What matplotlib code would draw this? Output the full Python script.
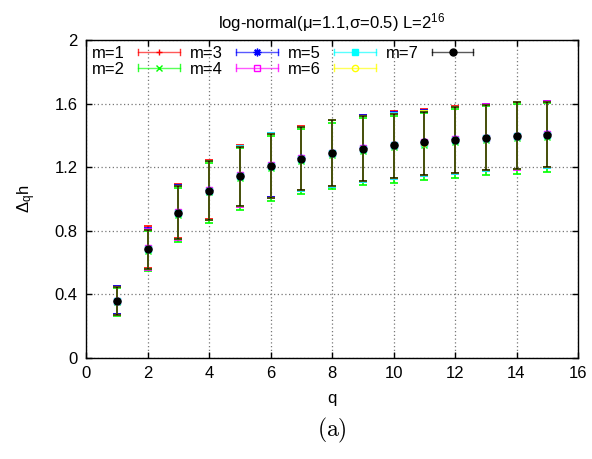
import numpy as np
import matplotlib
matplotlib.use("Agg")
import matplotlib.pyplot as plt
from matplotlib.lines import Line2D
from matplotlib.legend_handler import HandlerBase

plt.rcParams['font.family'] = ['Liberation Sans', 'DejaVu Sans']
plt.rcParams['mathtext.fontset'] = 'custom'
plt.rcParams['mathtext.rm'] = 'Liberation Sans'
plt.rcParams['mathtext.it'] = 'Liberation Sans:italic'

q = np.arange(1, 16)

# m=1 .. m=7 : centre, upper end, lower end of each error bar
c1 = [0.362, 0.690, 0.918, 1.058, 1.150, 1.213, 1.258, 1.293, 1.321, 1.343, 1.360, 1.377, 1.388, 1.400, 1.409]
hi1 = [0.452, 0.831, 1.095, 1.245, 1.340, 1.418, 1.458, 1.500, 1.530, 1.552, 1.565, 1.585, 1.598, 1.610, 1.617]
lo1 = [0.276, 0.563, 0.752, 0.872, 0.958, 1.012, 1.058, 1.083, 1.114, 1.133, 1.151, 1.165, 1.183, 1.191, 1.202]

c2 = [0.352, 0.676, 0.902, 1.041, 1.132, 1.195, 1.240, 1.275, 1.303, 1.325, 1.342, 1.359, 1.369, 1.382, 1.391]
hi2 = [0.438, 0.798, 1.070, 1.226, 1.318, 1.398, 1.440, 1.480, 1.510, 1.524, 1.540, 1.565, 1.583, 1.597, 1.604]
lo2 = [0.265, 0.547, 0.731, 0.850, 0.928, 0.986, 1.030, 1.060, 1.085, 1.101, 1.120, 1.132, 1.149, 1.160, 1.170]

c3 = [0.360, 0.688, 0.915, 1.055, 1.147, 1.210, 1.256, 1.291, 1.319, 1.341, 1.358, 1.375, 1.385, 1.398, 1.407]
hi3 = [0.450, 0.815, 1.088, 1.242, 1.336, 1.415, 1.455, 1.497, 1.526, 1.545, 1.558, 1.580, 1.596, 1.608, 1.615]
lo3 = [0.275, 0.560, 0.750, 0.870, 0.957, 1.011, 1.057, 1.082, 1.113, 1.132, 1.150, 1.164, 1.182, 1.190, 1.201]

c4 = [0.361, 0.689, 0.916, 1.056, 1.148, 1.211, 1.257, 1.292, 1.320, 1.342, 1.359, 1.376, 1.386, 1.399, 1.408]
hi4 = [0.448, 0.810, 1.084, 1.240, 1.333, 1.413, 1.454, 1.496, 1.525, 1.540, 1.555, 1.578, 1.595, 1.608, 1.614]
lo4 = [0.271, 0.555, 0.745, 0.865, 0.951, 1.005, 1.051, 1.076, 1.108, 1.126, 1.145, 1.158, 1.177, 1.185, 1.196]

c5 = [0.357, 0.683, 0.911, 1.051, 1.143, 1.206, 1.252, 1.287, 1.315, 1.337, 1.354, 1.371, 1.381, 1.394, 1.403]
hi5 = [0.446, 0.806, 1.081, 1.238, 1.331, 1.412, 1.453, 1.495, 1.524, 1.538, 1.552, 1.577, 1.594, 1.607, 1.613]
lo5 = [0.272, 0.557, 0.747, 0.867, 0.953, 1.007, 1.053, 1.078, 1.110, 1.128, 1.147, 1.160, 1.179, 1.187, 1.198]

c6 = [0.358, 0.686, 0.912, 1.052, 1.144, 1.207, 1.253, 1.288, 1.316, 1.338, 1.355, 1.372, 1.382, 1.395, 1.404]
hi6 = [0.445, 0.805, 1.080, 1.237, 1.330, 1.411, 1.452, 1.494, 1.523, 1.537, 1.551, 1.576, 1.594, 1.607, 1.613]
lo6 = [0.273, 0.558, 0.748, 0.868, 0.954, 1.008, 1.054, 1.079, 1.111, 1.129, 1.148, 1.161, 1.180, 1.188, 1.199]

c7 = [0.359, 0.685, 0.913, 1.053, 1.145, 1.208, 1.254, 1.289, 1.317, 1.339, 1.356, 1.373, 1.383, 1.396, 1.405]
hi7 = [0.445, 0.804, 1.080, 1.237, 1.330, 1.411, 1.452, 1.494, 1.523, 1.536, 1.550, 1.580, 1.594, 1.607, 1.613]
lo7 = [0.273, 0.558, 0.748, 0.869, 0.955, 1.009, 1.055, 1.080, 1.112, 1.130, 1.149, 1.162, 1.181, 1.189, 1.200]

labels = ['m=1', 'm=2', 'm=3', 'm=4', 'm=5', 'm=6', 'm=7']
centres = [c1, c2, c3, c4, c5, c6, c7]
uppers = [hi1, hi2, hi3, hi4, hi5, hi6, hi7]
lowers = [lo1, lo2, lo3, lo4, lo5, lo6, lo7]

colors = ['#ff0000', '#00ff00', '#0000ff', '#ff00ff', '#00ffff', '#ffff00', '#000000']
markers = ['+', 'x', (8, 2, 0), 's', 's', 'o', 'o']
msizes = [5, 4.5, 5.5, 4, 4, 4.5, 5]
filled = [True, True, True, False, True, False, True]
bar_alpha = [1, 1, 1, 1, 1, 1, 0.8]


class HandlerXBar(HandlerBase):
    # gnuplot-like key sample: horizontal bar with end caps and a marker
    def create_artists(self, legend, orig_handle, xdescent, ydescent,
                       width, height, fontsize, trans):
        y = height / 2 - ydescent
        x0, x1 = -xdescent, width - xdescent
        col = orig_handle.get_color()
        bar = Line2D([x0, x1], [y, y], color=col, lw=1.0, alpha=0.65)
        caps = Line2D([x0, x0, np.nan, x1, x1], [y - 2.5, y + 2.5, np.nan, y - 2.5, y + 2.5],
                      color=col, lw=1.0, alpha=0.8)
        mk = Line2D([(x0 + x1) / 2], [y], ls='none', marker=orig_handle.get_marker(),
                    color=col, mfc=orig_handle.get_markerfacecolor(),
                    mec=col, ms=orig_handle.get_markersize(), mew=1.0)
        for a in (bar, caps, mk):
            a.set_transform(trans)
        return [bar, caps, mk]


fig = plt.figure(figsize=(5.92, 4.59), dpi=100)
ax = fig.add_axes([86 / 592, 1 - 358 / 459, (578 - 86) / 592, (358 - 40) / 459])

handles = []
for lab, c, hi, lo, col, mk, ms, fl, ba in zip(labels, centres, uppers, lowers, colors,
                                              markers, msizes, filled, bar_alpha):
    c = np.array(c)
    yerr = [c - np.array(lo), np.array(hi) - c]
    ax.errorbar(q, c, yerr=yerr, fmt='none', ecolor=col, elinewidth=1.2,
                capsize=3, capthick=1.2, alpha=ba, zorder=3)
    ax.plot(q, c, ls='none', marker=mk, color=col, ms=ms,
            mfc=col if fl else 'none', mec=col, mew=1.0, zorder=4)
    handles.append(Line2D([], [], color=col, marker=mk, ms=ms,
                          mfc=col if fl else 'none'))

ax.set_xlim(0, 16)
ax.set_ylim(0, 2)
ax.set_xticks(np.arange(0, 17, 2))
ax.set_yticks([0, 0.4, 0.8, 1.2, 1.6, 2])
ax.set_yticklabels(['0', '0.4', '0.8', '1.2', '1.6', '2'])
ax.tick_params(direction='in', length=4, width=1, top=True, right=True,
               labelsize=12, pad=6)
ax.grid(True, ls=(0, (1, 2)), color='#777777', lw=0.9)
for s in ax.spines.values():
    s.set_linewidth(1.0)

ax.set_xlabel('q', fontsize=12, labelpad=7)
ax.set_ylabel(r'Δ$_\mathrm{q}$h', fontsize=12, labelpad=12)
ax.set_title(r'log-normal(μ=1.1,σ=0.5) L=2$^{16}$', fontsize=12, pad=8)

ax.legend(handles, labels, handler_map={Line2D: HandlerXBar()}, ncol=4,
          loc='upper left', bbox_to_anchor=(0.0, 1.0), frameon=False,
          markerfirst=False, fontsize=12, handlelength=2.5, handletextpad=0.8,
          columnspacing=0.6, labelspacing=0.05, borderaxespad=0.2,
          borderpad=0.15)

fig.text(332 / 592, 1 - 430 / 459, r'$\mathrm{(a)}$', math_fontfamily='cm',
         fontsize=17, ha='center', va='center')

fig.savefig('out.png', dpi=100)
